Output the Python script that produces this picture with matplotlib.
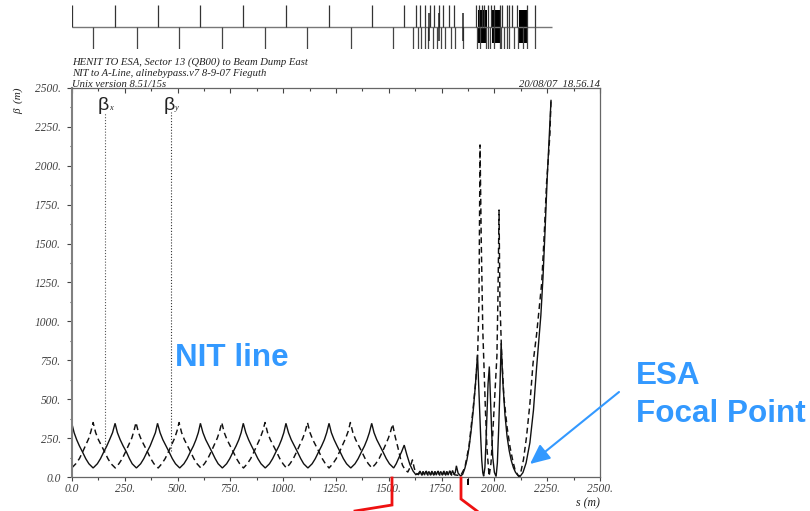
import matplotlib
matplotlib.use("Agg")
import matplotlib.pyplot as plt
from matplotlib.lines import Line2D
from matplotlib.patches import FancyArrowPatch

W, H = 810, 511
BLUE = "#3399FF"
INK = "#444444"

# ---- data ----
solid_s = [0, 10, 22, 35, 50, 65, 80, 100, 120, 135, 150, 165, 178, 192, 204,
           215, 228, 242, 258, 272, 285, 305, 325, 340, 355, 370, 382, 395, 405,
           417, 430, 445, 460, 475, 490, 510, 530, 545, 560, 575, 587, 598, 608,
           620, 633, 648, 663, 678, 692, 712, 732, 747, 762, 777, 790, 801, 811,
           823, 836, 850, 865, 880, 895, 915, 935, 950, 965, 980, 992, 1003, 1013,
           1025, 1038, 1053, 1068, 1083, 1097, 1117, 1137, 1152, 1167, 1182, 1195, 1206, 1217,
           1228, 1241, 1255, 1270, 1285, 1300, 1320, 1340, 1355, 1370, 1385, 1397, 1408, 1419,
           1430, 1443, 1458, 1473, 1488, 1503, 1523, 1535, 1548, 1560, 1573,
           1585, 1600, 1615, 1628, 1640, 1648, 1655, 1662, 1669, 1676, 1683, 1690, 1697, 1704,
           1711, 1718, 1725, 1732, 1739, 1746, 1753, 1760, 1767, 1774, 1781, 1788, 1795, 1802,
           1809, 1815, 1820, 1828, 1840,
           1850, 1860, 1870, 1880, 1890, 1900, 1910, 1920, 1925, 1930, 1935, 1940, 1945, 1949,
           1955, 1960, 1965, 1970, 1976, 1980, 1986, 1992, 2000, 2008, 2014, 2020, 2026, 2032,
           2040, 2050, 2060, 2070, 2080, 2090, 2100, 2110, 2121, 2135, 2150, 2168, 2185, 2200,
           2210, 2220, 2230, 2240, 2250, 2260, 2268]
solid_b = [340, 285, 240, 200, 160, 118, 85, 58, 85, 118, 160, 200, 240, 285, 345,
           285, 240, 200, 160, 118, 85, 58, 85, 118, 160, 200, 240, 285, 345,
           285, 240, 200, 160, 118, 85, 58, 85, 118, 160, 200, 240, 285, 345,
           285, 240, 200, 160, 118, 85, 58, 85, 118, 160, 200, 240, 285, 345,
           285, 240, 200, 160, 118, 85, 58, 85, 118, 160, 200, 240, 285, 345,
           285, 240, 200, 160, 118, 85, 58, 85, 118, 160, 200, 240, 285, 345,
           285, 240, 200, 160, 118, 85, 58, 85, 118, 160, 200, 240, 285, 345,
           285, 240, 200, 160, 118, 85, 58, 85, 125, 160, 205,
           145, 80, 38, 15, 22, 38, 14, 36, 12, 38, 14, 36, 12, 38,
           14, 36, 12, 38, 14, 36, 12, 38, 14, 36, 12, 40, 14, 42,
           16, 30, 72, 25, 6,
           18, 55, 110, 190, 300, 430, 590, 785, 610, 420, 260, 110, 28, 5,
           60, 220, 420, 600, 710, 560, 330, 130, 30, 3, 90, 300, 560, 860,
           610, 400, 260, 170, 105, 60, 30, 12, 3, 28, 90, 220, 430, 707,
           870, 1040, 1280, 1590, 1920, 2190, 2420]

dashed_s = [0, 18, 35, 50, 65, 80, 90, 100, 112, 125, 140, 155, 170, 185, 205,
            222, 238, 253, 268, 283, 293, 303, 315, 328, 343, 358, 373, 388, 408,
            425, 441, 456, 471, 486, 497, 507, 519, 532, 547, 562, 577, 592, 610,
            627, 643, 658, 673, 688, 699, 709, 721, 734, 749, 764, 779, 794, 812,
            830, 846, 861, 876, 891, 903, 914, 926, 939, 954, 969, 984, 999, 1015,
            1032, 1048, 1063, 1078, 1093, 1105, 1115, 1127, 1140, 1155, 1170, 1185, 1200, 1217,
            1235, 1251, 1266, 1281, 1296, 1308, 1318, 1330, 1343, 1358, 1373, 1388, 1403, 1420,
            1438, 1454, 1469, 1484, 1498, 1509, 1518, 1530, 1543, 1555, 1565, 1578, 1590,
            1600, 1612, 1620, 1628, 1640, 1650, 1657, 1664, 1671, 1678, 1685, 1692, 1699, 1706,
            1713, 1720, 1727, 1734, 1741, 1748, 1755, 1762, 1769, 1776, 1783, 1790, 1797, 1804,
            1811, 1822, 1840,
            1860, 1880, 1900, 1912, 1921, 1927, 1932, 1938, 1945, 1952, 1958, 1965, 1975,
            1984, 1993, 2006, 2012, 2017, 2022, 2026, 2034, 2045, 2060, 2074, 2087, 2098, 2115,
            2125, 2138, 2152, 2168, 2183, 2200, 2216, 2224, 2236, 2247, 2256, 2263, 2268]
dashed_b = [60, 85, 118, 160, 205, 250, 295, 350, 285, 240, 200, 160, 118, 85, 58,
            85, 118, 160, 205, 250, 295, 350, 285, 240, 200, 160, 118, 85, 58,
            85, 118, 160, 205, 250, 295, 350, 285, 240, 200, 160, 118, 85, 58,
            85, 118, 160, 205, 250, 295, 350, 285, 240, 200, 160, 118, 85, 58,
            85, 118, 160, 205, 250, 295, 350, 285, 240, 200, 160, 118, 85, 58,
            85, 118, 160, 205, 250, 295, 350, 285, 240, 200, 160, 118, 85, 58,
            85, 118, 160, 205, 250, 295, 350, 285, 240, 200, 160, 118, 85, 58,
            85, 118, 160, 205, 250, 295, 340, 260, 190, 120, 75, 45, 32,
            60, 110, 60, 25, 15, 35, 12, 32, 14, 36, 12, 32, 14, 36,
            12, 32, 14, 36, 12, 32, 14, 36, 12, 32, 14, 36, 12, 32,
            14, 12, 8,
            60, 200, 450, 620, 800, 1137, 2134, 1500, 945, 650, 411, 180, 5,
            90, 300, 623, 780, 1180, 1716, 1137, 800, 514, 320, 193, 105, 45, 3,
            30, 115, 257, 470, 732, 920, 1137, 1247, 1560, 1890, 2060, 2210, 2423]

marker_x_s = [155]
marker_y_s = [467]
marker_top = 2345
marker_x_bottom = 175
marker_y_bottom = 170

lat_top_s = [0, 204, 405, 608, 811, 1013, 1217, 1420, 1573, 1627, 1648, 1671, 1695,
             1714, 1738, 1757, 1785, 1809, 1915, 1925, 1940, 1950, 1968, 1985, 1996,
             2026, 2035, 2060, 2068, 2085, 2108, 2154, 2193]
lat_bot_s = [100, 308, 507, 710, 914, 1113, 1322, 1520, 1615, 1638, 1652, 1671, 1686,
             1709, 1728, 1747, 1766, 1795, 1813, 1851, 1918, 1932, 1958, 1968, 1980, 1996,
             2026, 2033, 2047, 2062, 2068, 2095, 2110, 2135, 2154, 2193]
lat_block_start = [1922, 1989, 2115]
lat_block_end = [1965, 2026, 2153]
lat_mid_s = [1690, 1738, 1851]

x_ticks = [0, 250, 500, 750, 1000, 1250, 1500, 1750, 2000, 2250, 2500]
x_labels = ["0.0", "250.", "500.", "750.", "1000.", "1250.", "1500.", "1750.", "2000.", "2250.", "2500."]
y_ticks = [0, 250, 500, 750, 1000, 1250, 1500, 1750, 2000, 2250, 2500]
y_labels = ["0.0", "250.", "500.", "750.", "1000.", "1250.", "1500.", "1750.", "2000.", "2250.", "2500."]
x_minor = [125, 375, 625, 875, 1125, 1375, 1625, 1875, 2125, 2375]
y_minor = [125, 375, 625, 875, 1125, 1375, 1625, 1875, 2125, 2375]

# ---- layout helpers (pixels, origin top-left) ----
def fx(px):
    return px / W
def fy(px):
    return 1 - px / H

fig = plt.figure(figsize=(W / 100, H / 100), dpi=100, facecolor="white")
ax = fig.add_axes([fx(72), fy(477), fx(600) - fx(72), fy(88) - fy(477)])
ax.set_xlim(0, 2500)
ax.set_ylim(0, 2500)

ax.plot(solid_s, solid_b, color="#111111", lw=1.0, solid_joinstyle="miter")
ax.plot(dashed_s, dashed_b, color="#111111", lw=1.05, dashes=(4, 2.6))
ax.vlines(marker_x_s, marker_x_bottom, marker_top, color="#555555", lw=0.8, linestyles=(0, (1, 1.6)))
ax.vlines(marker_y_s, marker_y_bottom, marker_top, color="#333333", lw=0.8, linestyles=(0, (1, 1.6)))

for side in ax.spines.values():
    side.set_color("#666666")
    side.set_linewidth(0.9)
ax.spines["left"].set_color("#808080")
ax.spines["left"].set_linewidth(1.5)

serif = dict(family="Liberation Serif", style="italic")
ax.set_xticks(x_ticks, x_labels, color=INK, fontsize=8.3, **serif)
ax.set_yticks(y_ticks, y_labels, color=INK, fontsize=8.3, **serif)
ax.set_xticks(x_minor, minor=True)
ax.set_yticks(y_minor, minor=True)
ax.tick_params(axis="x", which="major", direction="out", length=3, width=0.8, color="#444444", pad=1.5, top=True)
ax.tick_params(axis="x", which="minor", direction="out", length=1.8, width=0.8, color="#444444", top=True)
ax.tick_params(axis="y", which="major", direction="out", length=3.6, width=0.8, color="#444444", pad=4.5)
ax.tick_params(axis="y", which="minor", direction="out", length=1.8, width=0.8, color="#444444")
for t in ax.xaxis.get_major_ticks():
    t.tick2line.set_marker(3)
    t.tick2line.set_markersize(3.5)
for t in ax.xaxis.get_minor_ticks():
    t.tick2line.set_marker(3)
    t.tick2line.set_markersize(2)

# ---- lattice strip above the plot, same s scale ----
lat = fig.add_axes([fx(72), fy(49), fx(600) - fx(72), fy(5) - fy(49)], sharex=ax)
lat.set_ylim(-1, 1)
lat.axis("off")
lat.hlines(0, 0, 2273, color="#777777", lw=1)
lat.vlines(lat_top_s, 0, 1, color="#333333", lw=0.9)
lat.vlines(lat_bot_s, -1, 0, color="#444444", lw=0.9)
lat.vlines(lat_mid_s, -0.65, 0.65, color="#222222", lw=1.1)
lat.bar(lat_block_start, 1.5, [e - st for st, e in zip(lat_block_start, lat_block_end)],
        bottom=-0.75, align="edge", color="black", lw=0)

# ---- texts ----
def label(px, py, s, **kw):
    fig.text(fx(px), fy(py), s, **kw)

head = dict(color="#222222", fontsize=7.7, va="baseline", ha="left", **serif)
label(72, 65, "HENIT TO ESA, Sector 13 (QB00) to Beam Dump East", **head)
label(72, 76, "NIT to A-Line, alinebypass.v7 8-9-07 Fieguth", **head)
label(72, 87, "Unix version 8.51/15s", **head)
label(600, 87, "20/08/07  18.56.14", color="#222222", fontsize=7.7, ha="right", va="baseline", **serif)
label(18, 101, "β  (m)", color="#222222", fontsize=8, rotation=90, ha="center", va="center", **serif)
label(588, 503, "s (m)", color="#222222", fontsize=8.5, ha="center", va="center", **serif)

label(98, 110, "β", color="#222222", fontsize=14, family="Liberation Sans", ha="left", va="baseline")
label(109, 110, "x", color="#222222", fontsize=6, ha="left", va="baseline", **serif)
label(164, 110, "β", color="#222222", fontsize=14, family="Liberation Sans", ha="left", va="baseline")
label(175, 110, "y", color="#222222", fontsize=6, ha="left", va="baseline", **serif)

big = dict(color=BLUE, fontsize=22.6, family="Liberation Sans", weight="bold", ha="left", va="baseline")
label(175, 366, "NIT line", **big)
label(636, 384, "ESA", **big)
label(636, 422, "Focal Point", **big)

# ---- call-out graphics ----
fig.add_artist(Line2D([fx(392), fx(392), fx(355)], [fy(478), fy(505), fy(511)],
                      color="#EE1111", lw=2, solid_joinstyle="miter"))
fig.add_artist(Line2D([fx(461), fx(461), fx(477)], [fy(478), fy(499), fy(511)],
                      color="#EE1111", lw=2, solid_joinstyle="miter"))
fig.add_artist(Line2D([fx(467.7), fx(467.7)], [fy(480), fy(484)], color="black", lw=1.4))
arrow = FancyArrowPatch((fx(619), fy(392)), (fx(530), fy(464)), transform=fig.transFigure,
                        arrowstyle="-|>,head_length=12,head_width=5.5", color=BLUE, lw=1.5,
                        shrinkA=0, shrinkB=0)
fig.add_artist(arrow)

fig.savefig("out.png", dpi=100, facecolor="white")
